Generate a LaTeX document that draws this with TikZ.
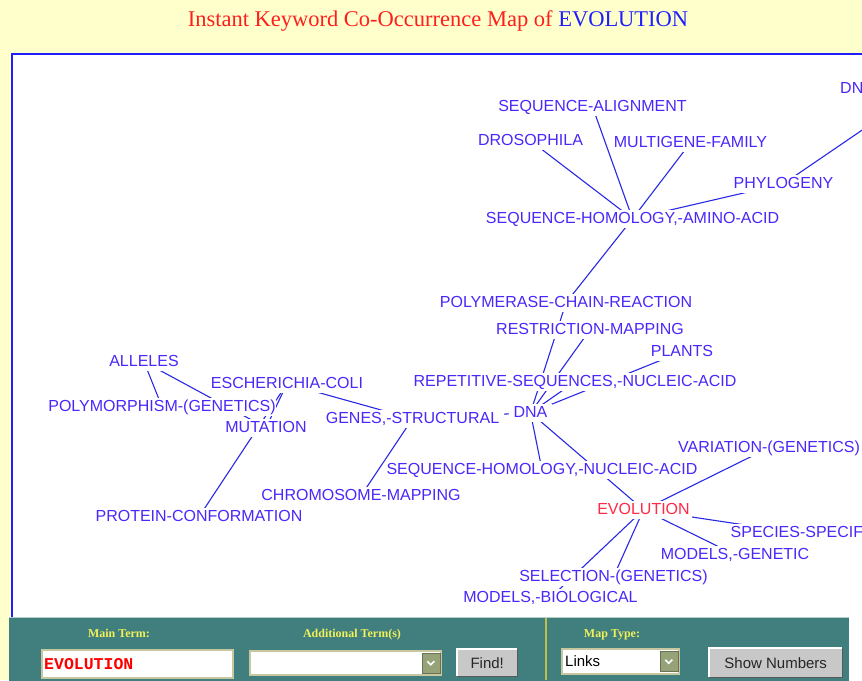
\documentclass[tikz,border=0pt]{standalone}
\usepackage{fontspec}
\setmainfont{Liberation Serif}
\setsansfont{Liberation Sans}
\setmonofont{Liberation Mono}
\usetikzlibrary{positioning}

\definecolor{pageyellow}{RGB}{255,255,204}
\definecolor{frameblue}{RGB}{30,30,255}
\definecolor{termblue}{RGB}{72,40,250}
\definecolor{linkblue}{RGB}{40,40,230}
\definecolor{evored}{RGB}{255,40,70}
\definecolor{titlered}{RGB}{255,30,30}
\definecolor{titleblue}{RGB}{30,30,255}
\definecolor{panelteal}{RGB}{64,127,125}
\definecolor{formyellow}{RGB}{240,240,90}
\definecolor{boxrim}{RGB}{200,200,160}
\definecolor{arrowgreen}{RGB}{150,163,120}
\definecolor{btngray}{RGB}{200,200,200}

\pgfdeclarelayer{back}
\pgfdeclarelayer{links}
\pgfsetlayers{back,links,main}

\tikzset{
  term/.style={anchor=base, fill=white, text=termblue, inner xsep=2pt, inner ysep=1.5pt,
    text height=12pt, text depth=3.5pt, font=\sffamily\fontsize{16}{16}\selectfont},
  link/.style={draw=linkblue, line width=1.1pt},
  formlabel/.style={anchor=base, text=formyellow, font=\bfseries\fontsize{12}{12}\selectfont},
  field/.style={draw=boxrim, line width=1.5pt, fill=white, anchor=north west, inner sep=0pt},
  arrowbox/.style={fill=arrowgreen, draw=arrowgreen!70!black, line width=0.4pt, anchor=east,
    minimum width=18pt, minimum height=20pt, inner sep=0pt},
  chevron/.style={draw=white, line width=1.6pt},
  button/.style={fill=btngray, anchor=north west, inner sep=0pt, text=black!85,
    font=\sffamily\fontsize{15}{15}\selectfont}
}

\begin{document}
\begin{tikzpicture}[x=1pt,y=-1pt]

\useasboundingbox (0,0) rectangle (862,680);

\begin{pgfonlayer}{back}
\fill [pageyellow] (0,0) rectangle (862,680);
\draw [frameblue, line width=2.3pt, fill=white] (12.2,53.8) rectangle (900,700);
\fill [panelteal] (9,617) rectangle (849,682);
\draw [panelteal!40!white, line width=0.8pt] (9,617.4) -- (849,617.4);
\draw [formyellow!80!black, line width=1.2pt] (546,618) -- (546,680);
\end{pgfonlayer}

\node (title) [anchor=base, font=\fontsize{22.5}{22.5}\selectfont] at (438,27)
    {\textcolor{titlered}{Instant Keyword Co-Occurrence Map of} \textcolor{titleblue}{EVOLUTION}};

\node (seqalign)  [term] at (592.5,111) {SEQUENCE-ALIGNMENT};
\node (droso)     [term] at (530.5,145) {DROSOPHILA};
\node (multigene) [term] at (690.5,147) {MULTIGENE-FAMILY};
\node (dnx)       [term, anchor=base west] at (838,93) {DN};
\node (phylo)     [term] at (783.5,188) {PHYLOGENY};
\node (seqhomaa)  [term] at (632.5,223) {SEQUENCE-HOMOLOGY,-AMINO-ACID};
\node (pcr)       [term] at (566,307) {POLYMERASE-CHAIN-REACTION};
\node (restrict)  [term] at (590,334) {RESTRICTION-MAPPING};
\node (plants)    [term] at (682,356) {PLANTS};
\node (repet)     [term] at (575,386) {REPETITIVE-SEQUENCES,-NUCLEIC-ACID};
\node (dna)       [term, inner xsep=5pt] at (530.5,417) {DNA};
\node (genes)     [term, inner xsep=5pt] at (412.5,423) {GENES,-STRUCTURAL};
\node (alleles)   [term] at (144,366) {ALLELES};
\node (ecoli)     [term] at (287,388) {ESCHERICHIA-COLI};
\node (polymorph) [term, inner xsep=0.5pt] at (162,411) {POLYMORPHISM-(GENETICS)};
\node (mutation)  [term] at (266,432) {MUTATION};
\node (protein)   [term] at (199,521) {PROTEIN-CONFORMATION};
\node (chromo)    [term] at (361,500) {CHROMOSOME-MAPPING};
\node (seqhomna)  [term] at (542,474) {SEQUENCE-HOMOLOGY,-NUCLEIC-ACID};
\node (evol)      [term, text=evored] at (643.5,514) {EVOLUTION};
\node (variation) [term] at (769,452) {VARIATION-(GENETICS)};
\node (species)   [term, anchor=base west] at (728.5,537) {SPECIES-SPECIF};
\node (modgen)    [term] at (735,559) {MODELS,-GENETIC};
\node (selection) [term] at (613.5,581) {SELECTION-(GENETICS)};
\node (modbio)    [term] at (550.5,602) {MODELS,-BIOLOGICAL};

\coordinate (dnend) at (926,86.5);

\begin{pgfonlayer}{links}
\foreach \a/\b in {seqhomaa/droso, seqhomaa/seqalign, seqhomaa/multigene, seqhomaa/phylo,
    seqhomaa/pcr, phylo/dnend, pcr/dna, restrict/dna, repet/dna, plants/dna, genes/dna,
    dna/seqhomna, dna/evol, ecoli/genes, genes/chromo, ecoli/mutation, ecoli/protein,
    alleles/polymorph, alleles/mutation, evol/variation, evol/species, evol/modgen,
    evol/selection, evol/modbio}
    \draw [link] (\a.center) -- (\b.center);
\end{pgfonlayer}

\node (mainlbl) [formlabel] at (119,637) {Main Term:};
\node (addlbl)  [formlabel] at (352,637) {Additional Term(s)};
\node (maplbl)  [formlabel] at (612,637) {Map Type:};

\node (mainbox) [field, minimum width=191pt, minimum height=28pt] at (41,649) {};
\node (maintxt) [anchor=west, inner sep=0pt, text=red,
    font=\ttfamily\bfseries\fontsize{16.5}{16.5}\selectfont] at ([xshift=3pt]mainbox.west) {EVOLUTION};

\node (addbox) [field, minimum width=191pt, minimum height=24pt] at (249,650) {};
\node (addbtn) [arrowbox, left=1.5pt of addbox.east, anchor=east] {};
\draw [chevron] ([xshift=-3.5pt,yshift=1.5pt]addbtn.center) -- ([yshift=-2pt]addbtn.center)
    -- ([xshift=3.5pt,yshift=1.5pt]addbtn.center);

\node (findbtn) [button, minimum width=60pt, minimum height=27pt] at (457,649) {Find!};
\draw [white, line width=1.2pt] (findbtn.south west) |- (findbtn.north east);
\draw [gray!70!black, line width=1.2pt] (findbtn.south west) -| (findbtn.north east);

\node (mapbox) [field, minimum width=117pt, minimum height=25pt] at (561,648) {};
\node (maptxt) [anchor=west, inner sep=0pt, text=black,
    font=\sffamily\fontsize{15}{15}\selectfont] at ([xshift=4pt]mapbox.west) {Links};
\node (mapbtn) [arrowbox, left=1.5pt of mapbox.east, anchor=east] {};
\draw [chevron] ([xshift=-3.5pt,yshift=1.5pt]mapbtn.center) -- ([yshift=-2pt]mapbtn.center)
    -- ([xshift=3.5pt,yshift=1.5pt]mapbtn.center);

\node (numbtn) [button, minimum width=133pt, minimum height=29pt] at (709,648) {Show Numbers};
\draw [white, line width=1.2pt] (numbtn.south west) |- (numbtn.north east);
\draw [gray!70!black, line width=1.2pt] (numbtn.south west) -| (numbtn.north east);

\end{tikzpicture}
\end{document}
